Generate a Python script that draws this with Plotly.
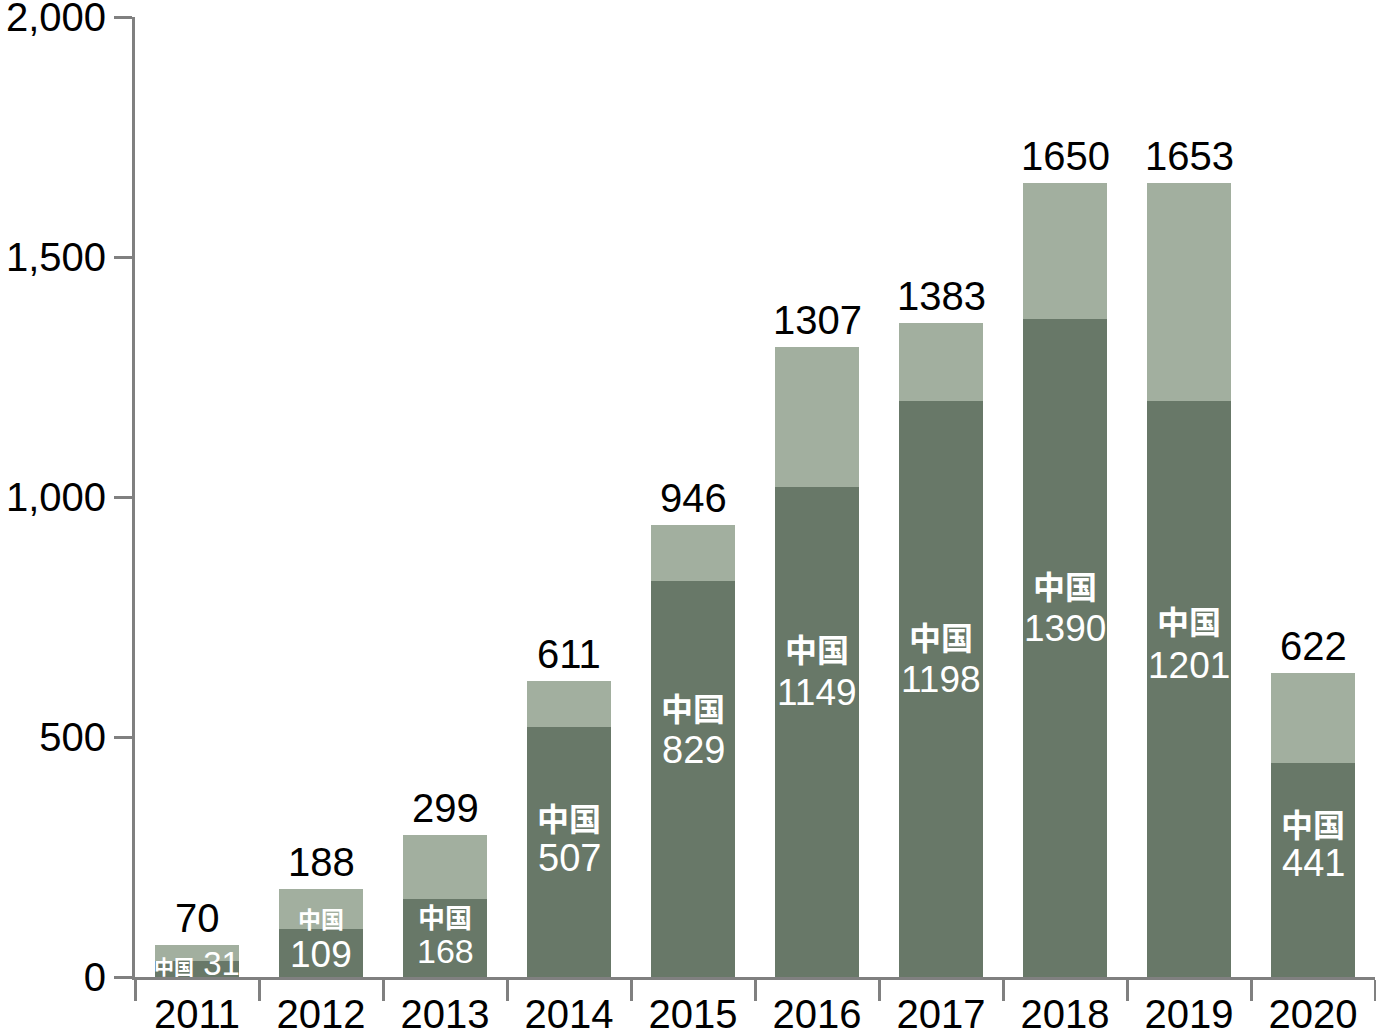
import plotly.graph_objects as go

years = ["2011", "2012", "2013", "2014", "2015", "2016", "2017", "2018", "2019", "2020"]
# bar heights as drawn in the picture
total_bar = [67, 183, 296, 617, 942, 1312, 1362, 1654, 1654, 633]
china_bar = [33, 100, 162, 521, 825, 1021, 1200, 1371, 1200, 446]
# numbers printed on the chart
total_text = ["70", "188", "299", "611", "946", "1307", "1383", "1650", "1653", "622"]
china_text = ["31", "109", "168", "507", "829", "1149", "1198", "1390", "1201", "441"]
china_word = "中国"
ytick_vals = [0, 500, 1000, 1500, 2000]
ytick_text = ["0", "500", "1,000", "1,500", "2,000"]

# label placement (data units of the number centre) and sizes – layout only
num_anchor = [29, 46, 54, 248, 473, 592, 619, 727, 650, 237]
word_shift = [0, 37, 35, 41, 43, 45, 44, 43, 45, 40]
word_size = [20, 23, 27, 32, 32, 32, 32, 32, 32, 32]
num_size = [33, 37, 34, 38, 38, 37, 37, 37, 37, 38]

DARK = "#687868"
LIGHT = "#A2AF9F"
AXIS = "#808080"
FONT = "Liberation Sans, Arial, sans-serif"
NUMFONT = "Liberation Sans, Arial, sans-serif"
CJK = "Noto Sans CJK SC, sans-serif"

rest = [t - c for t, c in zip(total_bar, china_bar)]

fig = go.Figure()
fig.add_trace(go.Bar(x=years, y=china_bar, marker=dict(color=DARK, line=dict(width=0)),
                     hoverinfo="skip"))
fig.add_trace(go.Bar(x=years, y=rest, marker=dict(color=LIGHT, line=dict(width=0)),
                     hoverinfo="skip"))

ann = []
for i, yr in enumerate(years):
    ann.append(dict(x=i, y=total_bar[i], text=total_text[i], showarrow=False,
                    yanchor="middle", yshift=27,
                    font=dict(family=FONT, size=40, color="black")))
    if i == 0:
        ann.append(dict(x=i, y=num_anchor[i],
                        text=f"<span style='font-family:{CJK};font-size:{word_size[i]}px;font-weight:600'>{china_word}</span>"
                             f"<span style='font-size:{num_size[i]}px'> {china_text[i]}</span>",
                        showarrow=False, yanchor="middle",
                        font=dict(family=NUMFONT, size=num_size[i], color="white")))
    else:
        ann.append(dict(x=i, y=num_anchor[i], text=china_text[i], showarrow=False,
                        yanchor="middle",
                        font=dict(family=NUMFONT, size=num_size[i], color="white")))
        ann.append(dict(x=i, y=num_anchor[i], text=china_word, showarrow=False,
                        yanchor="middle", yshift=word_shift[i],
                        font=dict(family=CJK, size=word_size[i], color="white", weight=600)))

fig.update_layout(
    width=1376, height=1028,
    margin=dict(l=135, r=1, t=17, b=51, autoexpand=False),
    paper_bgcolor="white", plot_bgcolor="white",
    barmode="stack", bargap=0.323, showlegend=False,
    annotations=ann,
    font=dict(family=FONT, size=40, color="black"),
)
fig.update_xaxes(type="category", range=[-0.5, len(years) - 0.5], automargin=False,
                 showline=True, linecolor=AXIS, linewidth=3, tickangle=0,
                 ticks="outside", tickson="boundaries", ticklen=21, tickwidth=3,
                 tickcolor=AXIS, showgrid=False, zeroline=False, ticklabeloverflow="allow",
                 tickfont=dict(family=FONT, size=40, color="black"))
fig.update_yaxes(range=[0, 2000], automargin=False, showline=True, linecolor=AXIS, linewidth=3,
                 ticks="outside", ticklen=18, tickwidth=3, tickcolor=AXIS,
                 tickvals=ytick_vals, ticktext=ytick_text, showgrid=False, zeroline=False,
                 ticklabeloverflow="allow",
                 tickfont=dict(family=FONT, size=40, color="black"))

# remove the browser's default 8px body margin so the figure fills the window
fig.write_html("out.html", config={"displayModeBar": False},
               post_script="document.body.style.margin='0';document.body.style.overflow='hidden';")
